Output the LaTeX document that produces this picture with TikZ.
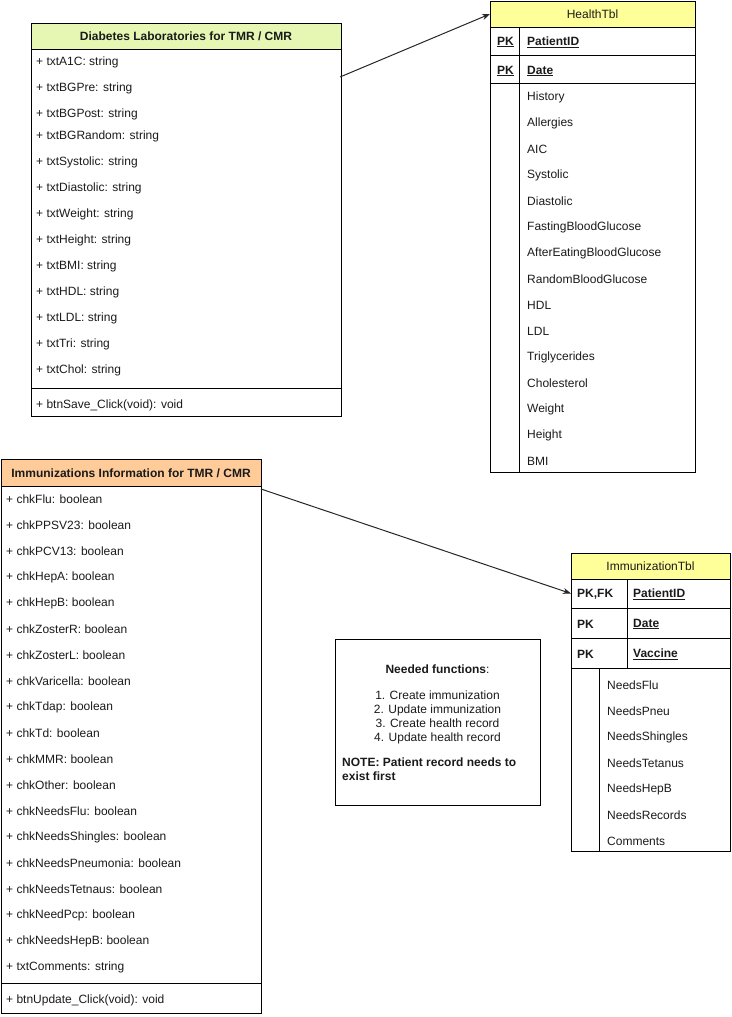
\documentclass[tikz,border=0pt]{standalone}
\usepackage{fontspec}
\setmainfont{Liberation Sans}
\usetikzlibrary{arrows.meta}
\definecolor{hdrgreen}{HTML}{E6F7B3}
\definecolor{hdrorange}{HTML}{FFCC99}
\definecolor{hdryellow}{HTML}{FFFF99}
\definecolor{txt}{HTML}{1A1A1A}
\tikzset{
  frame/.style={draw=black, line width=1pt, inner sep=0pt, outer sep=0pt, anchor=north west},
  row/.style={anchor=west, inner sep=0pt, text=txt, yshift=-1pt},
  keytxt/.style={anchor=west, inner sep=0pt, text=txt, yshift=-1pt, font=\fontsize{12}{14}\selectfont\bfseries},
  sep/.style={draw=black, line width=1pt},
  link/.style={draw=black!85, line width=1pt, -{Stealth[length=8pt,width=6pt]}},
}
\newcommand{\ul}[1]{\underline{#1}}
\begin{document}
\begin{tikzpicture}[x=1pt,y=-1pt,font=\fontsize{12}{14}\selectfont]
\useasboundingbox (0,0) rectangle (731,1017);

% ---------- Diabetes Laboratories ----------
\node[frame, minimum width=310pt, minimum height=393pt] (diab) at (31,23) {};
\node[frame, fill=hdrgreen, minimum width=310pt, minimum height=26pt] (diabh) at (31,23) {};
\node[text=txt, font=\fontsize{12}{14}\selectfont\bfseries, inner sep=0pt] (diabt) at (186,36.5) {Diabetes Laboratories for TMR / CMR};
\foreach \y/\t [count=\i] in {61/txtA1C, 87/txtBGPre, 113/txtBGPost, 135/txtBGRandom, 161/txtSystolic, 187/txtDiastolic, 213/txtWeight, 239/txtHeight, 265/txtBMI, 291/txtHDL, 317/txtLDL, 343/txtTri, 369/txtChol}
  \node[row] (da\i) at (36,\y) {+ \t: string};
\draw[sep] (diab.west |- 0,388) -- (diab.east |- 0,388);
\node[row] (dm) at (36,404) {+ btnSave\_Click(void): void};

% ---------- HealthTbl ----------
\node[frame, minimum width=205pt, minimum height=471pt] (ht) at (490,1) {};
\node[frame, fill=hdryellow, minimum width=205pt, minimum height=26pt] (hth) at (490,1) {};
\node[text=txt, inner sep=0pt] (htt) at (592.5,14.5) {HealthTbl};
\draw[sep] (ht.west |- 0,55) -- (ht.east |- 0,55);
\draw[sep] (ht.west |- 0,83) -- (ht.east |- 0,83);
\draw[sep] (519,27) -- (519,472);
\node[keytxt] (hk1) at (497,41) {\ul{PK}};
\node[keytxt] (hn1) at (527,41) {\ul{PatientID}};
\node[keytxt] (hk2) at (497,70) {\ul{PK}};
\node[keytxt] (hn2) at (527,70) {\ul{Date}};
\foreach \y/\t [count=\i] in {96/History, 122/Allergies, 148/AIC, 174/Systolic, 200/Diastolic, 226/FastingBloodGlucose, 252/AfterEatingBloodGlucose, 278/RandomBloodGlucose, 304/HDL, 330/LDL, 356/Triglycerides, 382/Cholesterol, 408/Weight, 434/Height, 460/BMI}
  \node[row] (hf\i) at (527,\y) {\t};

% ---------- Immunizations Information ----------
\node[frame, minimum width=260pt, minimum height=554pt] (imm) at (1,459) {};
\node[frame, fill=hdrorange, minimum width=260pt, minimum height=27pt] (immh) at (1,459) {};
\node[text=txt, font=\fontsize{12}{14}\selectfont\bfseries, inner sep=0pt] (immt) at (131,473) {Immunizations Information for TMR / CMR};
\foreach \y/\t [count=\i] in {498/chkFlu, 524/chkPPSV23, 550/chkPCV13, 576/chkHepA, 602/chkHepB, 628/chkZosterR, 654/chkZosterL, 680/chkVaricella, 706/chkTdap, 732/chkTd, 758/chkMMR, 784/chkOther, 810/chkNeedsFlu, 836/chkNeedsShingles, 862/chkNeedsPneumonia, 888/chkNeedsTetnaus, 914/chkNeedPcp, 940/chkNeedsHepB}
  \node[row] (ia\i) at (6,\y) {+ \t: boolean};
\node[row] (iac) at (6,966) {+ txtComments: string};
\draw[sep] (imm.west |- 0,983) -- (imm.east |- 0,983);
\node[row] (im) at (6,999) {+ btnUpdate\_Click(void): void};

% ---------- ImmunizationTbl ----------
\node[frame, minimum width=159pt, minimum height=298pt] (it) at (571,553) {};
\node[frame, fill=hdryellow, minimum width=159pt, minimum height=26pt] (ith) at (571,553) {};
\node[text=txt, inner sep=0pt] (itt) at (650.5,566.5) {ImmunizationTbl};
\node[inner sep=0pt, outer sep=0pt, minimum width=159pt, minimum height=29pt, anchor=north west] (itr1) at (571,579) {};
\draw[sep] (it.west |- 0,608) -- (it.east |- 0,608);
\draw[sep] (it.west |- 0,638) -- (it.east |- 0,638);
\draw[sep] (it.west |- 0,668) -- (it.east |- 0,668);
\draw[sep] (627,579) -- (627,668);
\draw[sep] (599,668) -- (599,851);
\node[keytxt] (ik1) at (577,593) {PK,FK};
\node[keytxt] (in1) at (633,593) {\ul{PatientID}};
\node[keytxt] (ik2) at (577,623) {PK};
\node[keytxt] (in2) at (633,623) {\ul{Date}};
\node[keytxt] (ik3) at (577,653) {PK};
\node[keytxt] (in3) at (633,653) {\ul{Vaccine}};
\foreach \y/\t [count=\i] in {684/NeedsFlu, 710/NeedsPneu, 736/NeedsShingles, 762/NeedsTetanus, 788/NeedsHepB, 814/NeedsRecords, 840/Comments}
  \node[row] (if\i) at (607,\y) {\t};

% ---------- Notes ----------
\node[frame, minimum width=205pt, minimum height=166pt] (note) at (335,639) {};
\node[text=txt, inner sep=0pt] (noteh) at (437.5,669) {\textbf{Needed functions}:};
\node[text=txt, inner sep=0pt, align=center, font=\fontsize{12}{14}\selectfont] (notel) at (437.5,717) {1. Create immunization\\2. Update immunization\\3. Create health record\\4. Update health record};
\node[text=txt, inner sep=0pt, anchor=north west, align=left, font=\fontsize{12}{14}\selectfont\bfseries] (noten) at (342,758) {NOTE: Patient record needs to\\exist first};

% ---------- Connectors ----------
\coordinate (c1) at (340,77);
\draw[link] (c1) -- (hth.west);
\coordinate (c2) at (261,489);
\draw[link] (c2) -- (itr1.west);
\end{tikzpicture}
\end{document}
